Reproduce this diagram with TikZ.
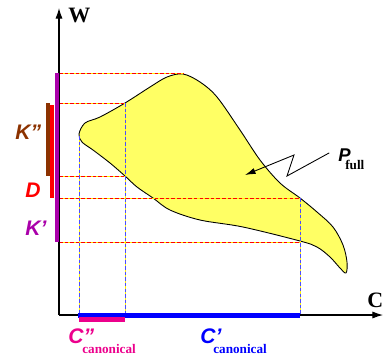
\documentclass[tikz,border=0pt]{standalone}
\usepackage{fontspec}
\setmainfont{Liberation Serif}
\setsansfont{Liberation Sans}
\usetikzlibrary{arrows.meta}

\definecolor{kbrown}{RGB}{140,50,0}
\definecolor{kpurple}{RGB}{170,0,170}
\definecolor{pyellow}{RGB}{255,255,100}

\begin{document}
\begin{tikzpicture}[x=0.02cm,y=-0.02cm,
  lbl/.style={inner sep=0pt,anchor=base west,text depth=0pt,font=\sffamily\bfseries\itshape\fontsize{12}{12}\selectfont},
  sublbl/.style={inner sep=0pt,anchor=base west,text height=4.6pt,font=\rmfamily\bfseries\fontsize{7.5}{7.5}\selectfont},
  axlbl/.style={inner sep=0pt,anchor=base west,font=\rmfamily\bfseries\fontsize{12.5}{12.5}\selectfont},
  hguide/.style={red,dash pattern=on 2pt off 1.2pt,line width=0.55pt},
  vguide/.style={blue!70,dash pattern=on 2pt off 1.2pt,line width=0.55pt},
  under/.style={yellow,line width=0.55pt},
  bar/.style={line width=2.5pt}]

  \useasboundingbox (0,0) rectangle (384,356);

  % The region P_full
  \draw[fill=pyellow,line width=0.5pt] plot[smooth cycle,tension=0.55] coordinates {
    (79,134) (85,123) (100,117) (125,103) (150,87) (167,77) (183,74)
    (200,82) (217,97) (240,130) (260,160) (280,183) (300,198) (317,212)
    (333,227) (343,245) (347,262) (346,273) (340,268) (330,257) (317,247)
    (300,241) (243,227) (200,220) (170,210) (153,198) (137,187) (125,176)
    (110,163) (93,150) (82,142)};

  % Horizontal guides (end of each line)
  \foreach \y/\xe in {73.5/183,103.5/125,176.5/125,198.5/300,242.5/300}{
    \draw[under] (59,\y) -- (\xe,\y);
    \draw[hguide] (59,\y) -- (\xe,\y);
  }
  % Vertical guides (top of each line)
  \foreach \x/\ys in {79/136,125/103,300/198}{
    \draw[under] (\x,\ys) -- (\x,315);
    \draw[vguide] (\x,\ys) -- (\x,315);
  }

  % Axes
  \draw[-{Latex[length=6pt,width=4pt]},line width=0.6pt] (59,315) -- (59,8);
  \draw[-{Latex[length=6pt,width=4pt]},line width=0.6pt] (59,315) -- (383,315);
  \node[axlbl] (w) at (68,22) {W};
  \node[axlbl] (c) at (367,307) {C};

  % Intervals on the W axis
  \draw[bar,kpurple] (56.7,73) -- (56.7,242);
  \draw[bar,red] (52.2,105) -- (52.2,198);
  \draw[bar,kbrown] (47.9,103) -- (47.9,176);

  % Intervals on the C axis
  \draw[bar,blue] (78,315.3) -- (300,315.3);
  \draw[bar,magenta] (79,319.3) -- (125,319.3);

  % Labels
  \node[lbl,text=kbrown] (kpp) at (15,139) {K"};
  \node[lbl,text=red] (d) at (25,197) {D};
  \node[lbl,text=kpurple] (kp) at (25,235) {K’};

  \node[lbl,text=magenta] (cpp) at (68,343) {C"};
  \node[sublbl,text=magenta] (cppsub) at (82,353) {canonical};
  \node[lbl,text=blue] (cp) at (200,343) {C’};
  \node[sublbl,text=blue] (cpsub) at (213,353) {canonical};

  \node[lbl,font=\sffamily\bfseries\itshape\fontsize{10.5}{10.5}\selectfont] (pfull) at (338,161) {P};
  \node[sublbl] (pfullsub) at (345,169.5) {full};

  % Zigzag pointer into the region
  \coordinate (ptip) at (245,175);
  \draw[-{Latex[length=6pt,width=3.5pt]},line width=0.5pt]
    ([xshift=-5pt,yshift=1pt]pfull.west) -- (287,176) -- (294,155) -- (ptip);

\end{tikzpicture}
\end{document}
